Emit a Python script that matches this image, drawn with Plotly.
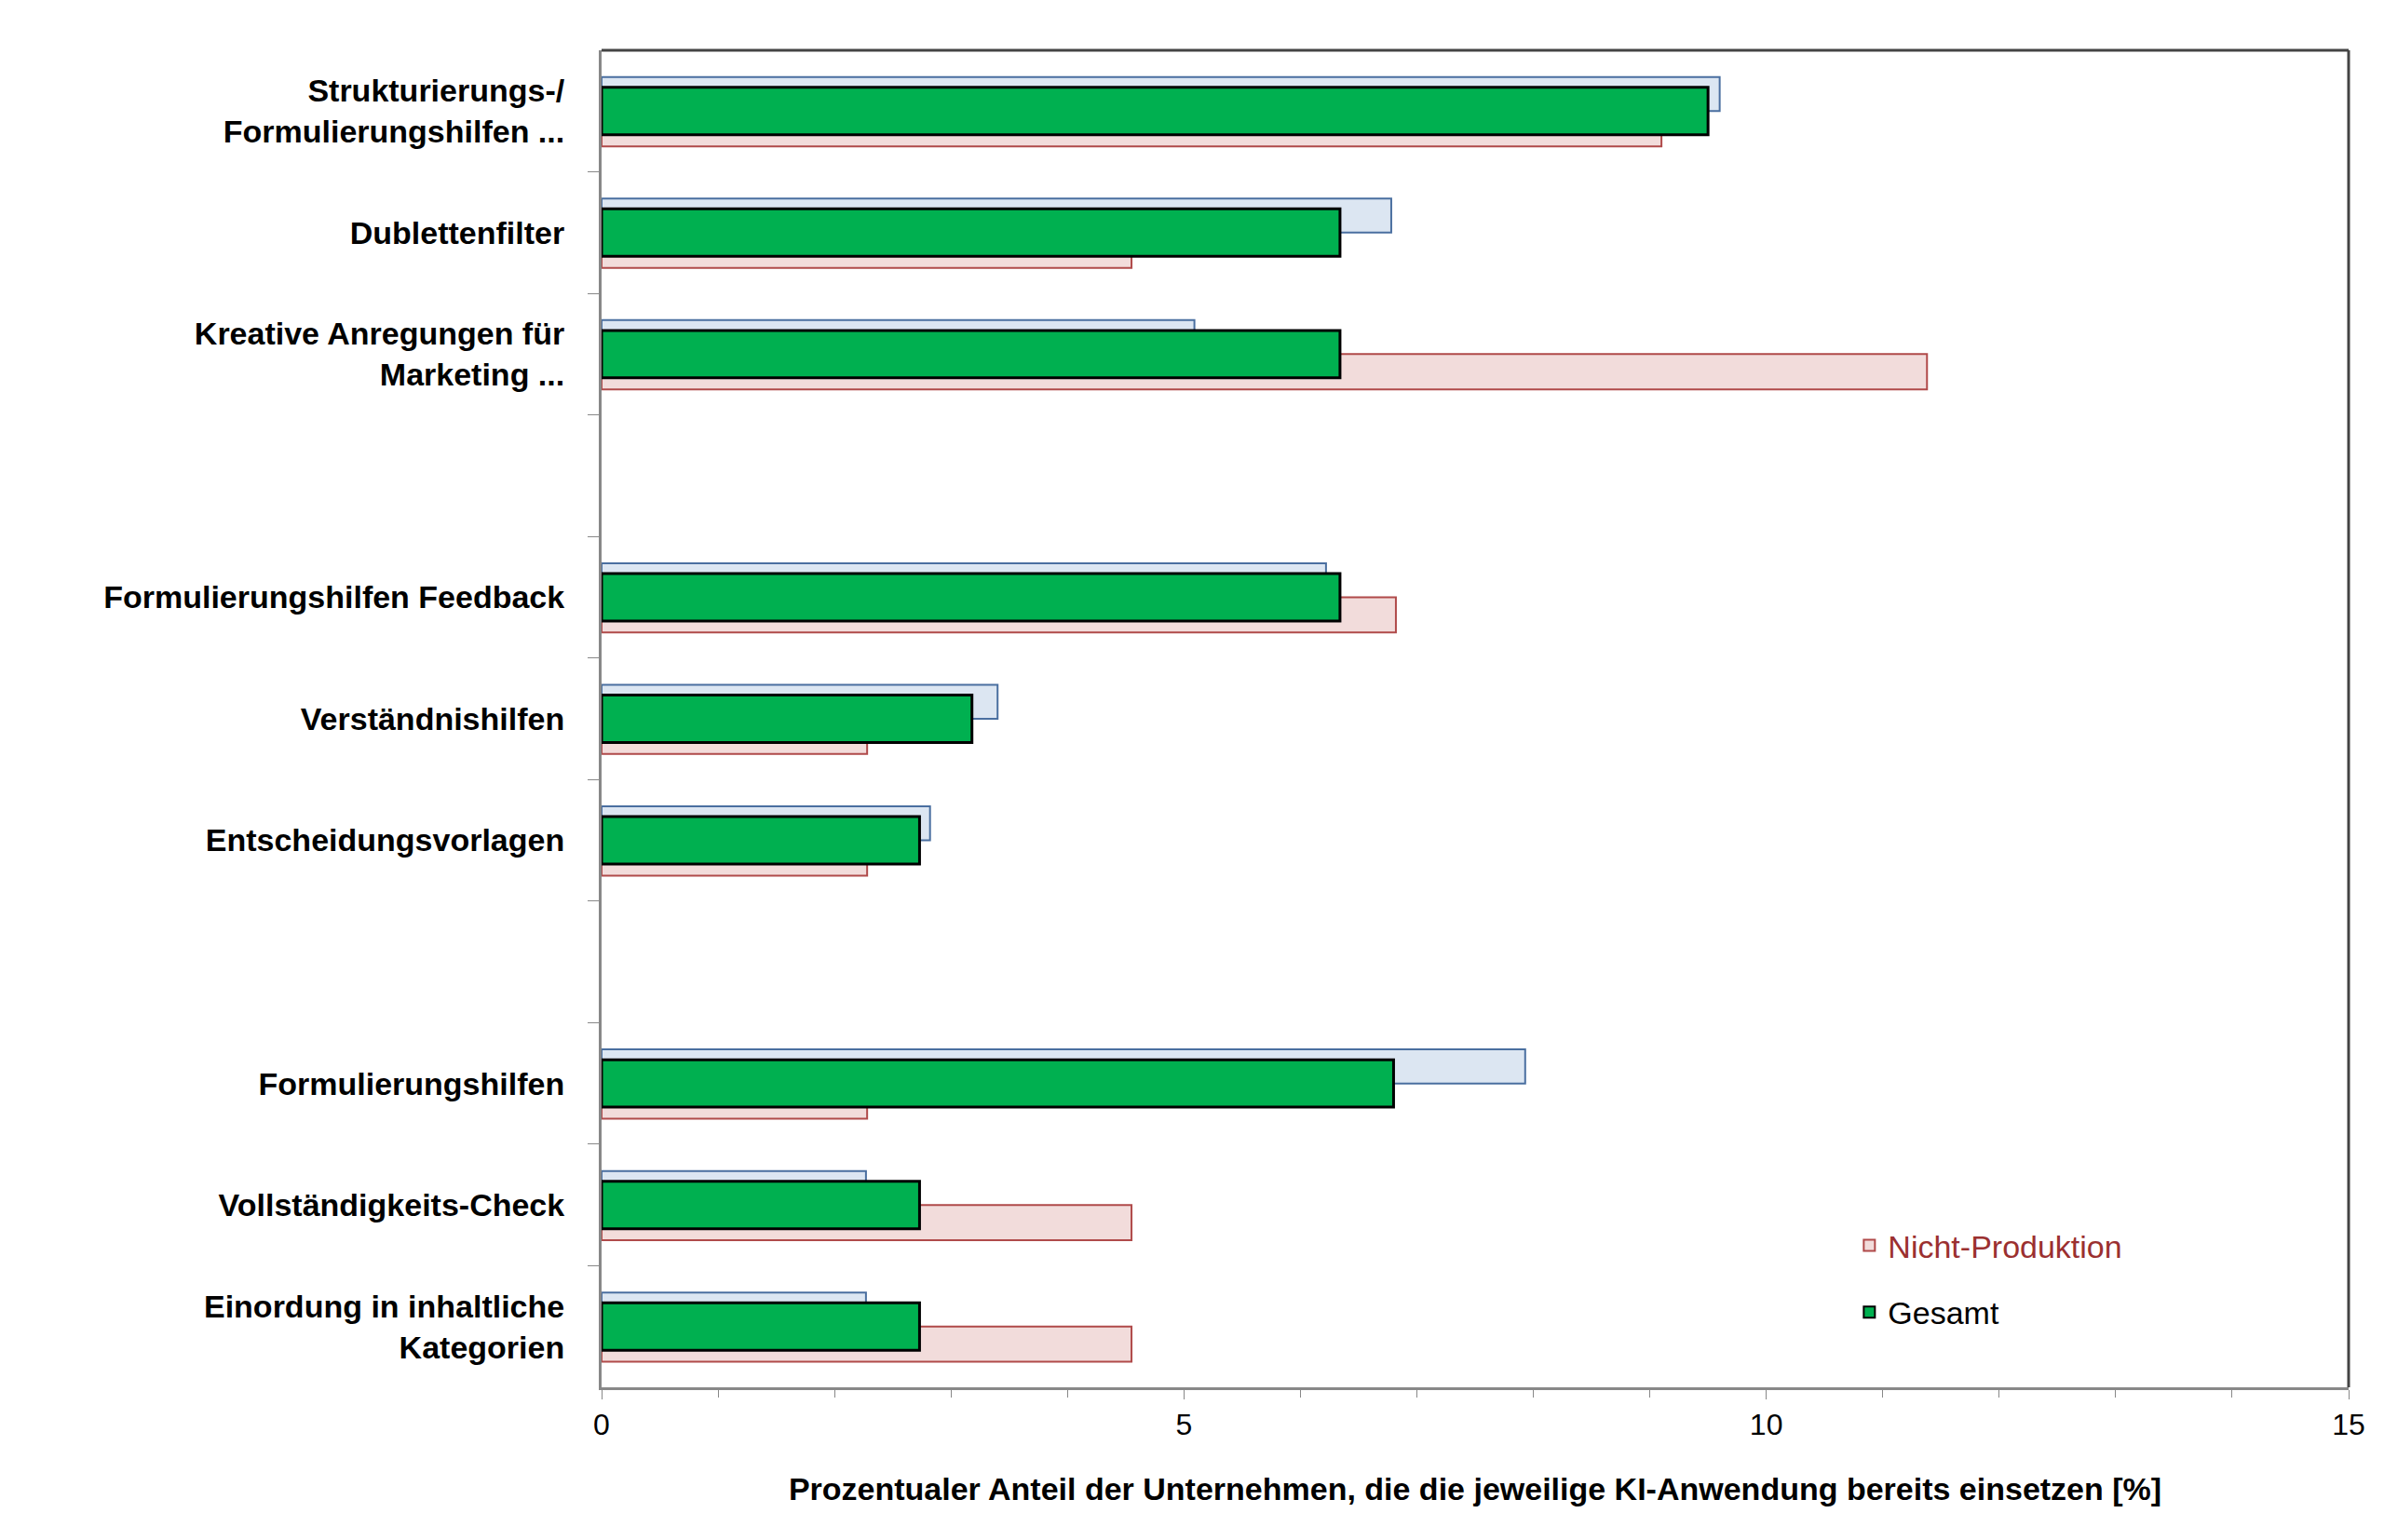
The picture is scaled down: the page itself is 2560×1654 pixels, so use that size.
import plotly.graph_objects as go

categories = ["Strukturierungs-/<br>Formulierungshilfen ...", "Dublettenfilter",
              "Kreative Anregungen für<br>Marketing ...", "Formulierungshilfen Feedback",
              "Verständnishilfen", "Entscheidungsvorlagen", "Formulierungshilfen",
              "Vollständigkeits-Check", "Einordung in inhaltliche<br>Kategorien"]
slots = [0, 1, 2, 4, 5, 6, 8, 9, 10]
produktion = [9.6, 6.78, 5.09, 6.22, 3.4, 2.82, 7.93, 2.27, 2.27]
nicht_produktion = [9.1, 4.55, 11.38, 6.82, 2.28, 2.28, 2.28, 4.55, 4.55]
gesamt = [9.5, 6.34, 6.34, 6.34, 3.18, 2.73, 6.8, 2.73, 2.73]

fig = go.Figure()
fig.add_trace(go.Bar(y=[s - 0.14 for s in slots], x=produktion, orientation="h", width=0.28,
                     marker=dict(color="#dce6f2", line=dict(color="#4a6fa0", width=2)),
                     name="Produktion", legend="legend"))
fig.add_trace(go.Bar(y=[s + 0.145 for s in slots], x=nicht_produktion, orientation="h", width=0.29,
                     marker=dict(color="#f2dcdb", line=dict(color="#b04a4a", width=2)),
                     name="Nicht-Produktion", legend="legend2"))
fig.add_trace(go.Bar(y=slots, x=gesamt, orientation="h", width=0.39,
                     marker=dict(color="#00b050", line=dict(color="black", width=3)),
                     name="Gesamt", legend="legend3"))

font = dict(family="Liberation Sans, Arial", size=34, color="black")
lg = dict(x=0.715, xanchor="left", yanchor="middle", bgcolor="rgba(0,0,0,0)",
          itemsizing="constant")
fig.update_layout(
    width=2560, height=1654, barmode="overlay", plot_bgcolor="white", paper_bgcolor="white",
    margin=dict(l=638, r=46, t=46, b=172), font=font,
    legend=dict(**lg, y=0.155, font=dict(size=34, color="#3a5f8f", family="Liberation Sans, Arial")),
    legend2=dict(**lg, y=0.106, font=dict(size=34, color="#9b3030", family="Liberation Sans, Arial")),
    legend3=dict(**lg, y=0.056, font=dict(size=34, color="black", family="Liberation Sans, Arial")),
)
fig.update_xaxes(range=[0, 15], tickvals=[0, 5, 10, 15], ticks="outside", ticklen=10,
                 tickcolor="#888", showgrid=False, showline=True, linecolor="#888", linewidth=3,
                 mirror=False, tickfont=dict(size=32, family="Liberation Sans, Arial"),
                 minor=dict(dtick=1, ticks="outside", ticklen=8, tickcolor="#888"),
                 title=dict(text="<b>Prozentualer Anteil der Unternehmen, die die jeweilige KI-Anwendung bereits einsetzen [%]</b>",
                            font=dict(size=34), standoff=40), zeroline=False,
                 tickprefix="<b>", ticksuffix="</b>")
fig.update_yaxes(range=[10.5, -0.5], tickvals=slots, ticktext=[f"<b>{c}</b>" for c in categories],
                 ticks="", showgrid=False, showline=True, linecolor="#888", linewidth=3,
                 ticklabelstandoff=30, zeroline=False,
                 minor=dict(tickvals=[i + 0.5 for i in range(10)], ticks="outside", ticklen=12,
                            tickcolor="#888", showgrid=False))
# right and top frame
fig.add_shape(type="line", xref="paper", yref="paper", x0=1, x1=1, y0=0, y1=1,
              line=dict(color="#444", width=3))
fig.add_shape(type="line", xref="paper", yref="paper", x0=0, x1=1, y0=1, y1=1,
              line=dict(color="#444", width=3))
fig.write_html("out.html")
